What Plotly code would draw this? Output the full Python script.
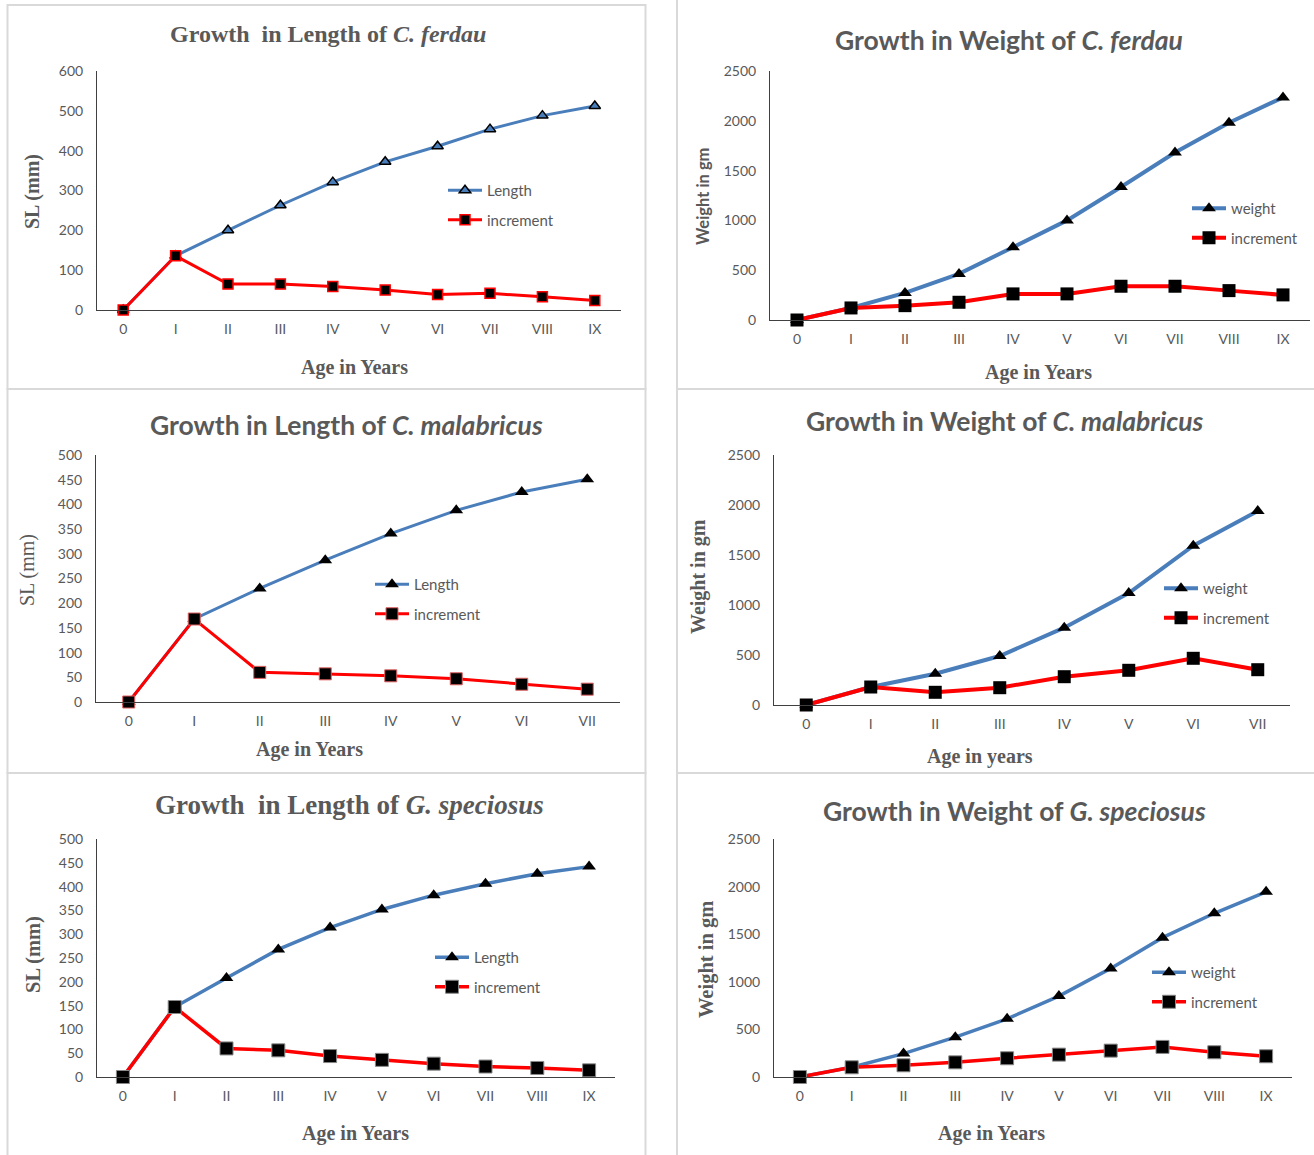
import plotly.graph_objects as go

W, H = 1314, 1155

# ---------------- data ----------------
ages_ix = ["0", "I", "II", "III", "IV", "V", "VI", "VII", "VIII", "IX"]
ages_vii = ["0", "I", "II", "III", "IV", "V", "VI", "VII"]

ferdau_length = [0, 136, 200, 263, 321, 372, 411, 454, 488, 512]
ferdau_length_inc = [0, 136, 65, 65, 59, 50, 39, 42, 33, 24]

ferdau_weight = [0, 121, 272, 463, 731, 1000, 1336, 1681, 1980, 2235]
ferdau_weight_inc = [0, 121, 144, 178, 262, 262, 339, 339, 295, 252]

malab_length = [0, 168, 230, 287, 341, 388, 425, 451]
malab_length_inc = [0, 168, 60, 57, 53, 47, 36, 26]

malab_weight = [0, 180, 313, 490, 773, 1120, 1593, 1940]
malab_weight_inc = [0, 180, 127, 173, 283, 347, 467, 353]

spec_length = [0, 147, 208, 268, 314, 352, 382, 406, 427, 442]
spec_length_inc = [0, 147, 60, 56, 44, 36, 28, 22, 19, 14]

spec_weight = [0, 102, 246, 418, 611, 850, 1141, 1464, 1720, 1945]
spec_weight_inc = [0, 102, 123, 154, 197, 235, 277, 316, 260, 218]

BLUE = "#4a7ebb"
RED = "#ff0000"
GRAY = "#595959"
AX = "#404040"
SERIF = "Liberation Serif, Times New Roman, serif"
SANS = "Lato, Carlito, Calibri, sans-serif"


def px(x):
    return x / W


def py(y):
    return 1 - y / H


panels = [
    dict(cats=ages_ix, main=ferdau_length, inc=ferdau_length_inc, name="Length",
         yr=600, dt=100, xd=(97, 621), yd=(71, 310), leg=(448, 190), p=1),
    dict(cats=ages_ix, main=ferdau_weight, inc=ferdau_weight_inc, name="weight",
         yr=2500, dt=500, xd=(770, 1310), yd=(71, 320), leg=(1192, 208), p=2),
    dict(cats=ages_vii, main=malab_length, inc=malab_length_inc, name="Length",
         yr=500, dt=50, xd=(96, 620), yd=(455, 702), leg=(375, 584), p=3),
    dict(cats=ages_vii, main=malab_weight, inc=malab_weight_inc, name="weight",
         yr=2500, dt=500, xd=(774, 1290), yd=(455, 705), leg=(1164, 588), p=4),
    dict(cats=ages_ix, main=spec_length, inc=spec_length_inc, name="Length",
         yr=500, dt=50, xd=(97, 615), yd=(839, 1077), leg=(435, 957), p=5),
    dict(cats=ages_ix, main=spec_weight, inc=spec_weight_inc, name="weight",
         yr=2500, dt=500, xd=(774, 1292), yd=(839, 1077), leg=(1152, 972), p=6),
]

fig = go.Figure()
layout = dict(
    width=W, height=H, margin=dict(l=0, r=0, t=0, b=0, autoexpand=False),
    paper_bgcolor="white", plot_bgcolor="white", showlegend=True,
)

for i, pn in enumerate(panels):
    k = i + 1
    xa = "x" if k == 1 else f"x{k}"
    ya = "y" if k == 1 else f"y{k}"
    lg = "legend" if k == 1 else f"legend{k}"
    if pn["p"] == 1:
        tri = dict(symbol="triangle-up", size=10, color=BLUE, line=dict(color="black", width=1.5))
        sq = dict(symbol="square", size=10, color="black", line=dict(color=RED, width=1.5))
        lw = 3
    elif pn["p"] in (2, 4):
        tri = dict(symbol="triangle-up", size=12, color="black", line=dict(width=0))
        sq = dict(symbol="square", size=13, color="black", line=dict(width=0))
        lw = 4
    elif pn["p"] == 3:
        tri = dict(symbol="triangle-up", size=12, color="black", line=dict(width=0))
        sq = dict(symbol="square", size=12, color="black", line=dict(color="#e06060", width=1))
        lw = 3
    else:
        tri = dict(symbol="triangle-up", size=12, color="black", line=dict(width=0))
        sq = dict(symbol="square", size=13, color="black", line=dict(color="#888888", width=1))
        lw = 3.5
    fig.add_trace(go.Scatter(
        x=pn["cats"], y=pn["main"], mode="lines+markers", name=pn["name"],
        line=dict(color=BLUE, width=lw), marker=tri, xaxis=xa, yaxis=ya,
        legend=lg, legendgroup=f"a{k}", cliponaxis=False))
    fig.add_trace(go.Scatter(
        x=pn["cats"], y=pn["inc"], mode="lines+markers", name="increment",
        line=dict(color=RED, width=lw), marker=sq, xaxis=xa, yaxis=ya,
        legend=lg, legendgroup=f"b{k}", cliponaxis=False))

    xkey = "xaxis" if k == 1 else f"xaxis{k}"
    ykey = "yaxis" if k == 1 else f"yaxis{k}"
    n = len(pn["cats"])
    layout[xkey] = dict(
        domain=[px(pn["xd"][0]), px(pn["xd"][1])], anchor=ya, type="category",
        range=[-0.5, n - 0.5], showgrid=False, zeroline=False, showline=True,
        linecolor=AX, linewidth=1, ticks="", ticklabelstandoff=6, automargin=False,
        tickfont=dict(family=SANS, size=14, color=GRAY), fixedrange=True)
    layout[ykey] = dict(
        domain=[py(pn["yd"][1]), py(pn["yd"][0])], anchor=xa,
        range=[0, pn["yr"]], dtick=pn["dt"], tick0=0, showgrid=False, zeroline=False,
        showline=True, linecolor=AX, linewidth=1, ticks="", ticklabelstandoff=10,
        automargin=False,
        tickfont=dict(family=SANS, size=14, color=GRAY), fixedrange=True)
    layout[lg] = dict(
        x=px(pn["leg"][0] - 5), y=py(pn["leg"][1] - 16), xanchor="left", yanchor="top",
        bgcolor="rgba(0,0,0,0)", itemwidth=34, tracegroupgap=7,
        font=dict(family=SANS, size=15, color=GRAY), itemclick=False)

fig.update_layout(**layout)

# panel borders
BC = "#d9d9d9"
for (x0, y0, x1, y1) in [(7.5, 5, 645.5, 389), (7.5, 389, 645.5, 773), (7.5, 773, 645.5, 1170),
                         (677, -5, 1330, 389), (677, 389, 1330, 773), (677, 773, 1330, 1170)]:
    fig.add_shape(type="rect", xref="paper", yref="paper",
                  x0=px(x0), x1=px(x1), y0=py(y1), y1=py(y0),
                  line=dict(color=BC, width=2), layer="below")


def ann(text, x, y, family, size, bold=True, angle=0):
    t = f"<b>{text}</b>" if bold else text
    fig.add_annotation(text=t, x=px(x), y=py(y), xref="paper", yref="paper",
                       xanchor="center", yanchor="middle", showarrow=False,
                       textangle=angle, font=dict(family=family, size=size, color=GRAY))


# chart titles
ann("Growth\u00a0 in Length of <i>C. ferdau</i>", 328, 34, SERIF, 24)
ann("Growth in Weight of <i>C. ferdau</i>", 1009, 40, SANS, 26.5)
ann("Growth in Length of <i>C. malabricus</i>", 346, 425, SANS, 26.5)
ann("Growth in Weight of <i>C. malabricus</i>", 1005, 421, SANS, 26.5)
ann("Growth\u00a0 in Length of <i>G. speciosus</i>", 349, 805, SERIF, 27)
ann("Growth in Weight of <i>G. speciosus</i>", 1014, 811, SANS, 26.5)

# axis titles
ann("SL (mm)", 32, 192, SERIF, 20, angle=-90)
ann("Age in Years", 354, 368, SERIF, 20)
ann("Weight in gm", 703, 197, SANS, 16.5, angle=-90)
ann("Age in Years", 1038, 372, SERIF, 20)
ann("SL (mm)", 28, 570, SERIF, 20, bold=False, angle=-90)
ann("Age in Years", 309, 749, SERIF, 20)
ann("Weight in gm", 698, 577, SERIF, 20, angle=-90)
ann("Age in years", 980, 756, SERIF, 20)
ann("SL (mm)", 33, 955, SERIF, 20.5, angle=-90)
ann("Age in Years", 355, 1133, SERIF, 20)
ann("Weight in gm", 706, 960, SERIF, 20.5, angle=-90)
ann("Age in Years", 991, 1133, SERIF, 20)

fig.write_html(
    "out.html",
    config={"displayModeBar": False},
    post_script="document.body.style.margin='0';document.body.style.overflow='hidden';",
)
